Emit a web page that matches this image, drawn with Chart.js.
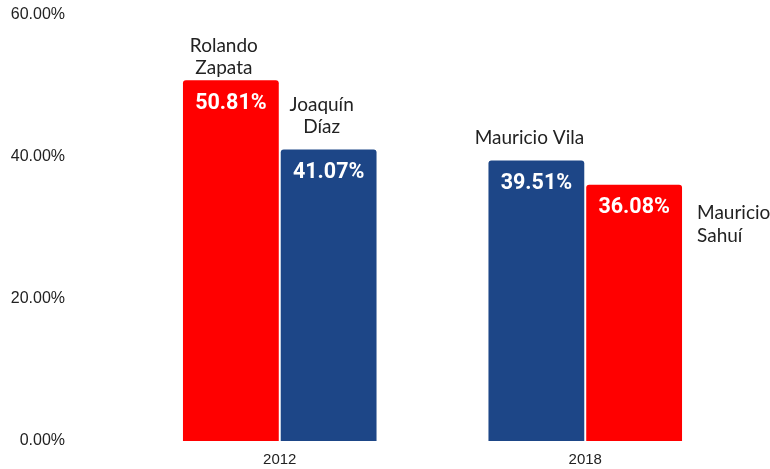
<!DOCTYPE html>
<html>
<head>
<meta charset="utf-8">
<script src="https://cdn.jsdelivr.net/npm/chart.js@4"></script>
<style>
  html, body { margin: 0; padding: 0; background: #fff; }
  #wrap { width: 770px; height: 469px; position: relative; }
</style>
</head>
<body>
<div id="wrap"><canvas id="voteChart"></canvas></div>
<script>
var years = ["2012", "2018"];
var firstValues = [50.81, 39.51];
var secondValues = [41.07, 36.08];
var firstNames = [["Rolando", "Zapata"], ["Mauricio Vila"]];
var secondNames = [["Joaquín", "Díaz"], ["Mauricio", "Sahuí"]];
var yTicks = [0, 20, 40, 60];

var red = "#ff0000";
var blue = "#1d4687";

// which name labels sit beside the bar instead of above it
var sideLabels = { "1-1": true };

var barLabels = {
  id: "barLabels",
  afterDatasetsDraw: function (chart) {
    var ctx = chart.ctx;
    var names = [firstNames, secondNames];
    ctx.save();
    chart.data.datasets.forEach(function (ds, di) {
      var meta = chart.getDatasetMeta(di);
      meta.data.forEach(function (bar, i) {
        var v = ds.data[i];
        ctx.fillStyle = "#ffffff";
        ctx.font = "bold 21.5px Roboto";
        ctx.textAlign = "center";
        ctx.textBaseline = "middle";
        ctx.fillText(v.toFixed(2) + "%", bar.x, bar.y + 23);

        var lines = names[di][i];
        ctx.fillStyle = "#222222";
        ctx.font = "19px Lato";
        if (sideLabels[di + "-" + i]) {
          ctx.textAlign = "left";
          var left = bar.x + bar.width / 2 + 15;
          lines.forEach(function (t, k) {
            ctx.fillText(t, left, bar.y + 28 + k * 23);
          });
        } else {
          ctx.textAlign = "center";
          var n = lines.length;
          var off = di === 0 && i === 0 ? 12 : 23;
          lines.forEach(function (t, k) {
            ctx.fillText(t, bar.x - 7, bar.y - off - (n - 1 - k) * 22);
          });
        }
      });
    });
    ctx.restore();
  }
};

var ctx = document.getElementById("voteChart");
var voteChart = new Chart(ctx, {
  type: "bar",
  data: {
    labels: years,
    datasets: [
      {
        data: firstValues,
        backgroundColor: [red, blue],
        borderRadius: 3,
        categoryPercentage: 0.64,
        barPercentage: 0.98
      },
      {
        data: secondValues,
        backgroundColor: [blue, red],
        borderRadius: 3,
        categoryPercentage: 0.64,
        barPercentage: 0.98
      }
    ]
  },
  options: {
    responsive: true,
    maintainAspectRatio: false,
    animation: false,
    layout: { padding: { top: 15, right: 32, bottom: 0, left: 10 } },
    plugins: {
      legend: { display: false },
      tooltip: { enabled: false }
    },
    scales: {
      x: {
        grid: { display: false, drawTicks: false },
        border: { display: false },
        afterFit: function (axis) {
          axis.height = 28;
          axis.paddingLeft = 0;
          axis.paddingRight = 0;
        },
        ticks: {
          padding: 10,
          color: "#222",
          font: { family: "Liberation Sans", size: 15 }
        }
      },
      y: {
        min: 0,
        max: 60,
        grid: { display: false, drawTicks: false },
        border: { display: false },
        afterBuildTicks: function (axis) {
          axis.ticks = yTicks.map(function (v) { return { value: v }; });
        },
        afterFit: function (axis) {
          // tick padding is only meant as a horizontal gap here
          axis.width = 117;
          axis.paddingTop = 0;
          axis.paddingBottom = 0;
        },
        ticks: {
          padding: 62,
          color: "#222",
          font: { family: "Liberation Sans", size: 16 },
          callback: function (v) { return v.toFixed(2) + "%"; }
        }
      }
    }
  },
  plugins: [barLabels]
});
</script>
</body>
</html>
